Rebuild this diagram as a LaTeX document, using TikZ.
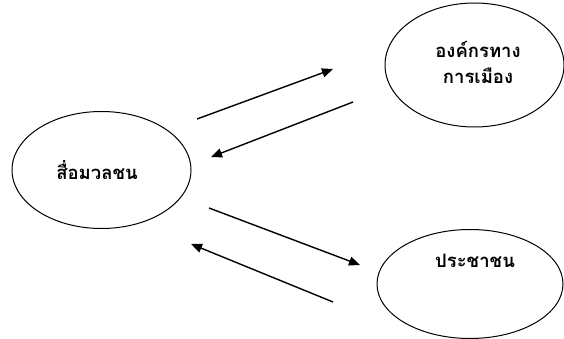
\documentclass[tikz,border=0pt]{standalone}
\usepackage{fontspec}
\newfontfamily\thaifont[Script=Thai]{Loma}
\usetikzlibrary{shapes.geometric,arrows.meta}
\begin{document}
\begin{tikzpicture}[x=1pt,y=-1pt,
  oval/.style={draw=black,line width=1pt,ellipse,inner sep=0pt},
  lbl/.style={font=\thaifont\bfseries\fontsize{18.5}{26}\selectfont,align=center,inner sep=0pt},
  arr/.style={line width=1.4pt,-{Triangle[length=11pt,width=9pt]}}]
\useasboundingbox (0,0) rectangle (564,339);
\clip (0,0) rectangle (564,339);
\node[oval,minimum width=179pt,minimum height=117pt] (media) at (101.5,170) {};
\node[oval,minimum width=179pt,minimum height=124pt] (pol) at (474.5,65) {};
\node[oval,minimum width=186pt,minimum height=109pt] (people) at (470,284) {};
\node[lbl] (tmedia) at (97,170) {สื่อมวลชน};
\node[lbl] (tpol) at (478,62) {องค์กรทาง\\การเมือง};
\node[lbl] (tpeople) at (475,261) {ประชาชน};
\coordinate (a1s) at (197,119); \coordinate (a1e) at (333,69);
\coordinate (a2s) at (353,102); \coordinate (a2e) at (211,157);
\coordinate (a3s) at (209,208); \coordinate (a3e) at (360,265);
\coordinate (a4s) at (333,302); \coordinate (a4e) at (191,244);
\draw[arr] (a1s) -- (a1e);
\draw[arr] (a2s) -- (a2e);
\draw[arr] (a3s) -- (a3e);
\draw[arr] (a4s) -- (a4e);
\end{tikzpicture}
\end{document}
